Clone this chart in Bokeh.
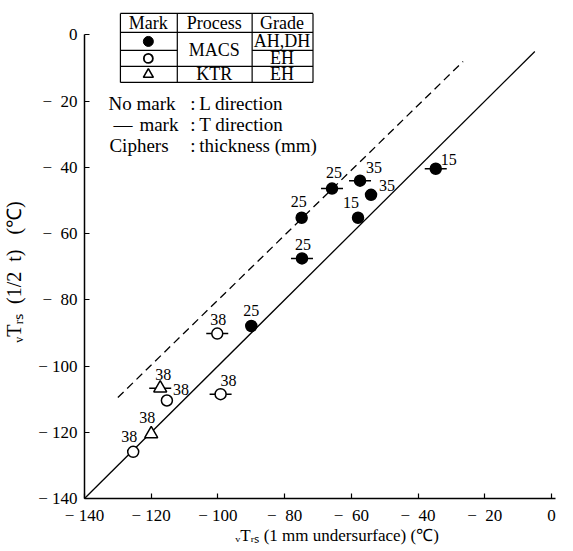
from bokeh.plotting import figure
from bokeh.models import Range1d, FixedTicker, ColumnDataSource
from bokeh.core.properties import value
from bokeh.embed import file_html
from bokeh.resources import INLINE

FONT = "Liberation Serif"

# ---------------- data ----------------
# MACS, grade AH/DH (filled circles)
ahdh_x = [-34.7, -57.4, -54.1, -65.8, -58.0, -74.9, -74.8, -90.0]
ahdh_y = [-40.4, -44.0, -48.3, -46.4, -55.2, -55.2, -67.5, -87.9]
ahdh_t = [True, True, False, True, False, False, True, False]   # T direction mark
ahdh_mm = ["15", "35", "35", "25", "15", "25", "25", "25"]

# MACS, grade EH (open circles)
eh_x = [-100.2, -99.2, -115.3, -125.4]
eh_y = [-90.2, -108.5, -110.4, -125.9]
eh_t = [True, True, False, False]
eh_mm = ["38", "38", "38", "38"]

# KTR, grade EH (open triangles)
ktr_x = [-117.3, -120.0]
ktr_y = [-106.7, -120.5]
ktr_t = [True, False]
ktr_mm = ["38", "38"]

# reference lines
solid_x = [-140, -5]
solid_y = [-140, -5]
dash_x = [-130, -26.5]
dash_y = [-109.5, -8]

x_ticks = [-140, -120, -100, -80, -60, -40, -20, 0]
y_ticks = [-140, -120, -100, -80, -60, -40, -20, 0]

NB = "\u00a0"
x_title = NB * 8 + "\u1d65T\u1d63\u209b (1 mm undersurface) (\u2103)"
y_title = ("\u1d65T\u1d63\u209b" + NB * 2 + "(1/2" + NB * 2 + "t)" + NB * 3
           + "(\u2103)" + NB * 9)

# label offsets (pixels) for thickness ciphers
ahdh_dx = [13, 14, 16, 2, -7, -3, 1, 0]
ahdh_dy = [-9, -13, -9, -16, -15, -16, -14, -15]
eh_dx = [1, 8, 14, -4]
eh_dy = [-14, -14, -11, -15]
ktr_dx = [3, -4]
ktr_dy = [-14, -16]

# ---------------- figure ----------------
p = figure(width=565, height=551, output_backend="svg", toolbar_location=None,
           x_range=Range1d(-140, 1.2), y_range=Range1d(-140, 10.4),
           min_border_left=83, min_border_right=10, min_border_top=0,
           min_border_bottom=53)
p.outline_line_color = None
p.grid.visible = False


def fmt(v):
    if v == 0:
        return "0"
    a = abs(v)
    return ("\u2212 " if a >= 100 else "\u2212\u2002") + str(a)


for ax in (p.xaxis[0], p.yaxis[0]):
    ax.axis_line_width = 1.5
    ax.axis_line_color = "black"
    ax.major_tick_in = 5
    ax.major_tick_out = 0
    ax.major_tick_line_width = 1.2
    ax.minor_tick_line_color = None
    ax.major_label_text_font = FONT
    ax.major_label_text_font_size = "17px"
    ax.major_label_text_color = "black"
    ax.axis_label_text_font = FONT
    ax.axis_label_text_font_size = "17px"
    ax.axis_label_text_font_style = "normal"
    ax.axis_label_text_color = "black"

p.xaxis.ticker = FixedTicker(ticks=x_ticks)
p.yaxis.ticker = FixedTicker(ticks=y_ticks)
p.xaxis.major_label_overrides = {t: fmt(t) for t in x_ticks}
p.yaxis.major_label_overrides = {t: fmt(t) for t in y_ticks}
p.yaxis.bounds = (-140, 0)
p.xaxis.major_label_standoff = 7
p.yaxis.major_label_standoff = 7
p.xaxis.axis_label_standoff = -2
p.yaxis.axis_label_standoff = 10
p.yaxis.axis_label_text_font_size = "20px"
p.xaxis.axis_label = x_title
p.yaxis.axis_label = y_title

# lines
p.line(solid_x, solid_y, line_color="black", line_width=1.3)
p.line(dash_x, dash_y, line_color="black", line_width=1.3, line_dash="8 5")


def group(xs, ys, ts, mm, dxs, dys, marker, fill):
    tx = [x for x, t in zip(xs, ts) if t]
    ty = [y for y, t in zip(ys, ts) if t]
    p.scatter(tx, ty, marker="dash", size=22, line_color="black", line_width=1.5)
    sz = 13 if marker == "triangle" else 11
    p.scatter(xs, ys, marker=marker, size=sz, fill_color=fill,
              line_color="black", line_width=1.5)
    src = ColumnDataSource(dict(x=xs, y=ys, t=mm, dx=dxs, dy=dys))
    p.text("x", "y", text="t", x_offset="dx", y_offset="dy", source=src,
           text_font=value(FONT), text_font_size="16px", text_color="black",
           text_align="center", text_baseline="middle")


group(ahdh_x, ahdh_y, ahdh_t, ahdh_mm, ahdh_dx, ahdh_dy, "circle", "black")
group(eh_x, eh_y, eh_t, eh_mm, eh_dx, eh_dy, "circle", "white")
group(ktr_x, ktr_y, ktr_t, ktr_mm, ktr_dx, ktr_dy, "triangle", "white")


# ---------------- helper: page pixel -> data units (for the legend table) ----
def X(px):
    return -140 + (px - 83) / 3.343


def Y(py):
    return -(py - 34.5) / 3.311


L, C1, C2, R = 119, 176, 251, 312
T, H1, H2, H3, B = 13, 32, 50, 66, 82
segs = [
    (L, T, R, T), (L, H1, R, H1), (L, H2, C1, H2), (C2, H2, R, H2),
    (L, H3, R, H3), (L, B, R, B),
    (L, T, L, B), (C1, T, C1, B), (C2, T, C2, B), (R, T, R, B),
]
p.segment([X(s[0]) for s in segs], [Y(s[1]) for s in segs],
          [X(s[2]) for s in segs], [Y(s[3]) for s in segs],
          line_color="black", line_width=1.2)

tbl_text = ["Mark", "Process", "Grade", "AH,DH", "EH", "EH", "MACS", "KTR"]
tbl_px = [147, 213, 281, 281, 281, 281, 213, 213]
tbl_py = [23, 23, 23, 41, 58, 74, 50, 74]
p.text([X(v) for v in tbl_px], [Y(v) for v in tbl_py], text=tbl_text,
       text_font=value(FONT), text_font_size="18px", text_color="black",
       text_align="center", text_baseline="middle")

p.scatter([X(147)], [Y(41)], marker="circle", size=10, fill_color="black",
          line_color="black")
p.scatter([X(147)], [Y(58)], marker="circle", size=9, fill_color="white",
          line_color="black", line_width=1.8)
p.scatter([X(147)], [Y(74)], marker="triangle", size=10, fill_color="white",
          line_color="black", line_width=1.6)

note_text = ["No mark", ":", "L direction",
             "\u2014", "mark", ":", "T direction",
             "Ciphers", ":", "thickness (mm)"]
note_px = [107, 189, 198, 112, 138, 189, 198, 108, 189, 198]
note_py = [103, 103, 103, 124, 124, 124, 124, 145, 145, 145]
p.text([X(v) for v in note_px], [Y(v) for v in note_py], text=note_text,
       text_font=value(FONT), text_font_size="19px", text_color="black",
       text_align="left", text_baseline="middle")

open("out.html", "w").write(file_html(p, INLINE))
